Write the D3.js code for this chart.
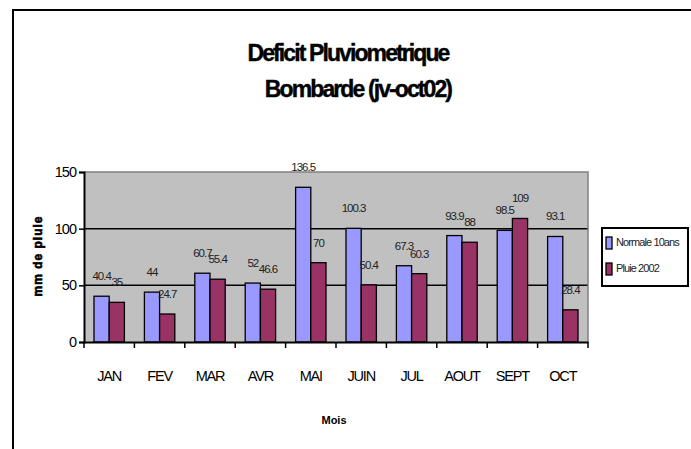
<!DOCTYPE html>
<html>
<head>
<meta charset="utf-8">
<script src="https://cdn.jsdelivr.net/npm/d3@7"></script>
<style>
  body { margin: 0; background: #fff; }
  text { font-family: "Liberation Sans", Arial, sans-serif; }
</style>
</head>
<body>
<div class="chart"></div>
<script>
var svg_width = 691;
var svg_height = 449;

// Data
var months = ["JAN", "FEV", "MAR", "AVR", "MAI", "JUIN", "JUL", "AOUT", "SEPT", "OCT"];
var normale = [40.4, 44, 60.7, 52, 136.5, 100.3, 67.3, 93.9, 98.5, 93.1];
var pluie = [35, 24.7, 55.4, 46.6, 70, 50.4, 60.3, 88, 109, 28.4];
var normaleLabels = ["40.4", "44", "60.7", "52", "136.5", "100.3", "67.3", "93.9", "98.5", "93.1"];
var pluieLabels = ["35", "24.7", "55.4", "46.6", "70", "50.4", "60.3", "88", "109", "28.4"];
var seriesNames = ["Normale 10ans", "Pluie  2002"];
var yTicks = [0, 50, 100, 150];
var colors = ["#9999ff", "#993366"];

var plot = { left: 84, right: 588, top: 172, bottom: 342 };

var svg = d3.select(".chart")
  .append("svg")
  .attr("width", svg_width)
  .attr("height", svg_height);

// outer frame
svg.append("rect")
  .attr("x", 13).attr("y", 10)
  .attr("width", 720).attr("height", 480)
  .attr("fill", "none")
  .attr("stroke", "#000")
  .attr("stroke-width", 2);

// Title
svg.append("text")
  .attr("x", 348).attr("y", 61)
  .attr("text-anchor", "middle")
  .attr("font-size", 23).attr("font-weight", "bold")
  .attr("letter-spacing", -1.9)
  .attr("stroke", "#000").attr("stroke-width", 0.4)
  .text("Deficit Pluviometrique");
svg.append("text")
  .attr("x", 358).attr("y", 97)
  .attr("text-anchor", "middle")
  .attr("font-size", 23).attr("font-weight", "bold")
  .attr("letter-spacing", -1.9)
  .attr("stroke", "#000").attr("stroke-width", 0.4)
  .text("Bombarde (jv-oct02)");

// Scales
var xScale = d3.scaleBand()
  .domain(months)
  .range([plot.left, plot.right]);

var yScale = d3.scaleLinear()
  .domain([0, 150])
  .range([plot.bottom, plot.top]);

var bw = 15.2;
var gap = (xScale.bandwidth() - 2 * bw) / 2;

// plot background
svg.append("rect")
  .attr("x", plot.left).attr("y", plot.top)
  .attr("width", plot.right - plot.left)
  .attr("height", plot.bottom - plot.top)
  .attr("fill", "#c0c0c0");

// gridlines
svg.selectAll(".grid")
  .data([50, 100])
  .enter()
  .append("line")
  .attr("x1", plot.left).attr("x2", plot.right)
  .attr("y1", d => yScale(d)).attr("y2", d => yScale(d))
  .attr("stroke", "#000").attr("stroke-width", 1.5);

// gray border top/right
svg.append("path")
  .attr("d", `M${plot.left},${plot.top}H${plot.right}V${plot.bottom}`)
  .attr("fill", "none")
  .attr("stroke", "#808080")
  .attr("stroke-width", 1.5);

// bars
var series = [normale, pluie];
series.forEach(function(vals, si) {
  svg.selectAll(".bar" + si)
    .data(vals)
    .enter()
    .append("rect")
    .attr("x", (d, i) => xScale(months[i]) + gap + si * bw)
    .attr("y", d => yScale(d))
    .attr("width", bw)
    .attr("height", d => plot.bottom - yScale(d))
    .attr("fill", colors[si])
    .attr("stroke", "#000")
    .attr("stroke-width", 1.3);
});

// data labels
var labelSets = [normaleLabels, pluieLabels];
series.forEach(function(vals, si) {
  svg.selectAll(".lab" + si)
    .data(vals)
    .enter()
    .append("text")
    .attr("x", (d, i) => xScale(months[i]) + gap + si * bw + bw / 2)
    .attr("y", d => yScale(d) - 16)
    .attr("text-anchor", "middle")
    .attr("font-size", 11.5)
    .attr("letter-spacing", -1)
    .attr("fill", "#222")
    .text((d, i) => labelSets[si][i]);
});

// axes
var bottom_axis = d3.axisBottom(xScale).tickSize(0).tickFormat("");
var left_axis = d3.axisLeft(yScale).tickValues(yTicks).tickSize(5).tickPadding(3);

var gx = svg.append("g")
  .attr("transform", `translate(0,${plot.bottom})`)
  .call(bottom_axis);
gx.select(".domain").attr("stroke", "#000").attr("stroke-width", 2);

// category boundary ticks
svg.selectAll(".xtick")
  .data(months.concat(["end"]))
  .enter()
  .append("line")
  .attr("x1", (d, i) => i < months.length ? xScale(d) : plot.right)
  .attr("x2", (d, i) => i < months.length ? xScale(d) : plot.right)
  .attr("y1", plot.bottom).attr("y2", plot.bottom + 6)
  .attr("stroke", "#000").attr("stroke-width", 1.5);

// month labels
svg.selectAll(".mlab")
  .data(months)
  .enter()
  .append("text")
  .attr("x", d => xScale(d) + xScale.bandwidth() / 2)
  .attr("y", 381)
  .attr("text-anchor", "middle")
  .attr("font-size", 14.5)
  .attr("letter-spacing", -1.2)
  .text(d => d);

var gy = svg.append("g")
  .attr("transform", `translate(${plot.left},0)`)
  .call(left_axis);
gy.select(".domain").attr("stroke", "#000").attr("stroke-width", 2);
gy.selectAll(".tick line").attr("stroke", "#000").attr("stroke-width", 1.5);
gy.selectAll(".tick text")
  .attr("font-family", "Liberation Sans, Arial, sans-serif")
  .attr("font-size", 14.5)
  .attr("letter-spacing", -1)
  .attr("fill", "#000");

// axis titles
svg.append("text")
  .attr("transform", "translate(42,256) rotate(-90)")
  .attr("text-anchor", "middle")
  .attr("font-size", 12)
  .attr("font-weight", "900")
  .attr("letter-spacing", 1)
  .attr("stroke", "#000").attr("stroke-width", 0.6)
  .text("mm de pluie");

svg.append("text")
  .attr("x", 334).attr("y", 424)
  .attr("text-anchor", "middle")
  .attr("font-family", "DejaVu Sans, sans-serif")
  .attr("font-size", 11)
  .attr("font-weight", "bold")
  .text("Mois");

// legend
var legend = svg.append("g");
legend.append("rect")
  .attr("x", 602).attr("y", 228)
  .attr("width", 86).attr("height", 58)
  .attr("fill", "#fff")
  .attr("stroke", "#000")
  .attr("stroke-width", 2);
seriesNames.forEach(function(name, i) {
  legend.append("rect")
    .attr("x", 606).attr("y", 237 + i * 26)
    .attr("width", 6).attr("height", 12)
    .attr("fill", colors[i])
    .attr("stroke", "#000")
    .attr("stroke-width", 1.3);
  legend.append("text")
    .attr("x", 616).attr("y", 246 + i * 26)
    .attr("font-size", 11)
    .attr("letter-spacing", -0.9)
    .attr("fill", "#222")
    .text(name);
});
</script>
</body>
</html>
